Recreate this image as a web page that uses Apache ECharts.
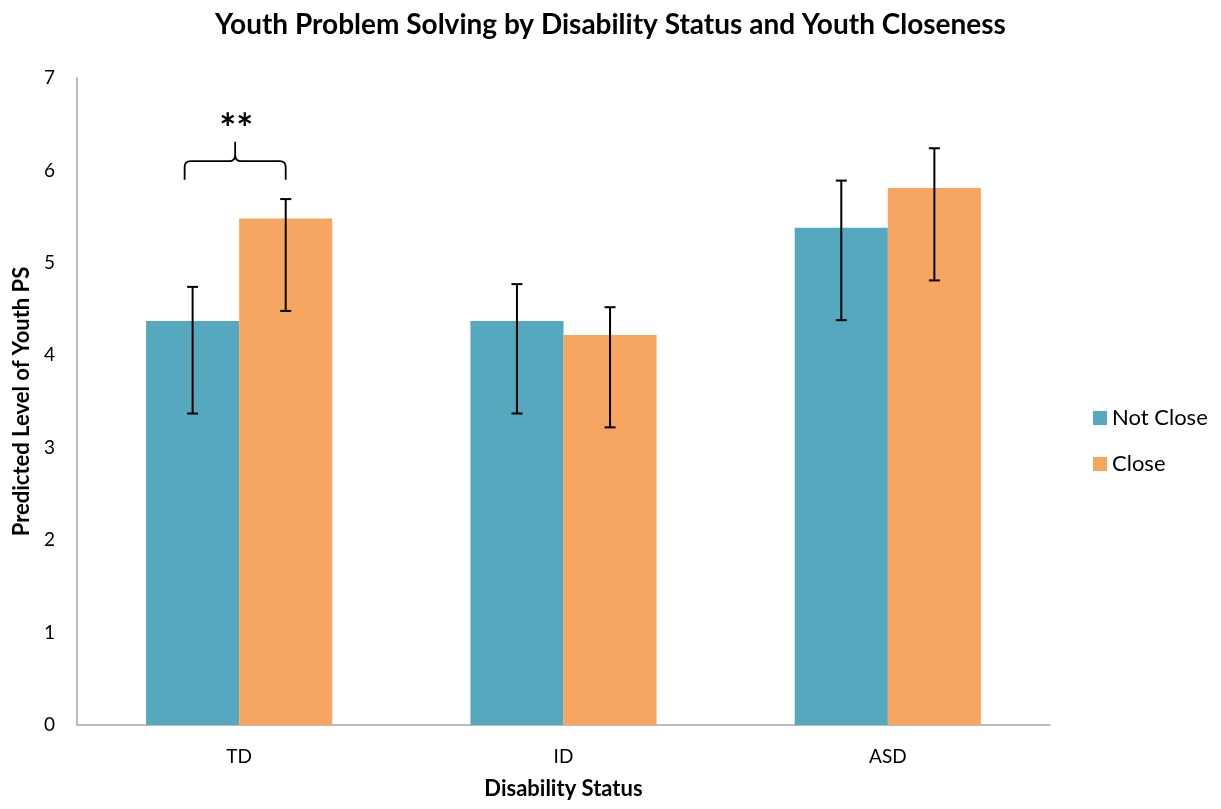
<!DOCTYPE html>
<html>
<head>
<meta charset="utf-8">
<script src="https://cdn.jsdelivr.net/npm/echarts@6/dist/echarts.min.js"></script>
<style>
  html, body { margin: 0; padding: 0; background: #fff; }
  #chart { width: 1221px; height: 809px; }
</style>
</head>
<body>
<div id="chart"></div>
<script>
// Disability status groups on the x axis
const categories = ['TD', 'ID', 'ASD'];
const seriesNames = ['Not Close', 'Close'];

// Predicted level of youth problem solving (bar heights)
const notCloseValues = [4.37, 4.37, 5.38];
const closeValues = [5.48, 4.22, 5.81];

// Error bar extents [low, high]
const notCloseErrors = [[3.37, 4.74], [3.37, 4.77], [4.38, 5.89]];
const closeErrors = [[4.48, 5.69], [3.22, 4.52], [4.81, 6.24]];

// Significance bracket over the TD pair: [category index, line level, end level, tip level, star level, marker]
const significance = [[0, 6.10, 5.90, 6.31, 6.44, '**']];

const yTicks = { min: 0, max: 7, interval: 1 };

const BAR_FRACTION = 0.287;
const TEAL = '#55A8BD';
const ORANGE = '#F6A660';
const FONT = 'Lato, "Open Sans", sans-serif';

function errorBarSeries(name, errors, side) {
  return {
    type: 'custom',
    name: name + ' error',
    silent: true,
    z: 5,
    data: errors.map((e, i) => [i, e[0], e[1]]),
    encode: { x: 0, y: [1, 2] },
    renderItem: function (params, api) {
      const band = api.size([1, 0])[0];
      const bw = band * BAR_FRACTION;
      const lo = api.coord([api.value(0), api.value(1)]);
      const hi = api.coord([api.value(0), api.value(2)]);
      const x = lo[0] + side * bw / 2;
      const cap = 5.5;
      const style = { stroke: '#000', lineWidth: 2 };
      return {
        type: 'group',
        children: [
          { type: 'line', shape: { x1: x, y1: hi[1], x2: x, y2: lo[1] }, style: style },
          { type: 'line', shape: { x1: x - cap, y1: hi[1], x2: x + cap, y2: hi[1] }, style: style },
          { type: 'line', shape: { x1: x - cap, y1: lo[1], x2: x + cap, y2: lo[1] }, style: style }
        ]
      };
    }
  };
}

const chart = echarts.init(document.getElementById('chart'), null, { renderer: 'canvas' });

chart.setOption({
  backgroundColor: '#ffffff',
  animation: false,
  title: {
    text: 'Youth Problem Solving by Disability Status and Youth Closeness',
    left: 'center',
    top: 6,
    textStyle: { fontFamily: FONT, fontSize: 28, fontWeight: 'bold', color: '#000' }
  },
  legend: {
    orient: 'vertical',
    left: 1093,
    top: 407,
    padding: 0,
    itemWidth: 14,
    itemHeight: 14,
    itemGap: 24,
    icon: 'rect',
    data: seriesNames,
    textStyle: { fontFamily: FONT, fontSize: 22, color: '#000' }
  },
  grid: { left: 77, right: 171, top: 78, bottom: 84, containLabel: false },
  xAxis: {
    type: 'category',
    data: categories,
    name: 'Disability Status',
    nameLocation: 'middle',
    nameGap: 53,
    nameTextStyle: { fontFamily: FONT, fontSize: 22, fontWeight: 'bold', color: '#000' },
    axisLine: { lineStyle: { color: '#A6A6A6', width: 1.5 } },
    axisTick: { show: false },
    axisLabel: { fontFamily: FONT, fontSize: 19, color: '#000', margin: 22 }
  },
  yAxis: {
    type: 'value',
    min: yTicks.min,
    max: yTicks.max,
    interval: yTicks.interval,
    name: 'Predicted Level of Youth PS',
    nameLocation: 'middle',
    nameGap: 44,
    nameTextStyle: { fontFamily: FONT, fontSize: 22, fontWeight: 'bold', color: '#000' },
    axisLine: { show: true, lineStyle: { color: '#A6A6A6', width: 1.5 } },
    axisTick: { show: false },
    splitLine: { show: false },
    axisLabel: { fontFamily: FONT, fontSize: 19, color: '#000', margin: 22 }
  },
  series: [
    {
      type: 'bar',
      name: seriesNames[0],
      data: notCloseValues,
      barWidth: (BAR_FRACTION * 100) + '%',
      barGap: '0%',
      itemStyle: { color: TEAL }
    },
    {
      type: 'bar',
      name: seriesNames[1],
      data: closeValues,
      barWidth: (BAR_FRACTION * 100) + '%',
      barGap: '0%',
      itemStyle: { color: ORANGE }
    },
    errorBarSeries(seriesNames[0], notCloseErrors, -1),
    errorBarSeries(seriesNames[1], closeErrors, 1),
    {
      type: 'custom',
      name: 'significance',
      silent: true,
      z: 6,
      data: significance,
      encode: { x: 0, y: [1, 2, 3, 4] },
      renderItem: function (params, api) {
        const band = api.size([1, 0])[0];
        const bw = band * BAR_FRACTION;
        const mid = api.coord([api.value(0), api.value(1)]);
        const yLine = mid[1];
        const yEnd = api.coord([api.value(0), api.value(2)])[1];
        const yTip = api.coord([api.value(0), api.value(3)])[1];
        const yStar = api.coord([api.value(0), api.value(4)])[1];
        const cx = mid[0];
        const xl = cx - bw / 2 - 8;
        const xr = cx + bw / 2;
        const xm = (xl + xr) / 2;
        const r = 6;
        const path =
          'M' + xl + ',' + yEnd +
          ' L' + xl + ',' + (yLine + r) +
          ' Q' + xl + ',' + yLine + ' ' + (xl + r) + ',' + yLine +
          ' L' + (xm - r) + ',' + yLine +
          ' Q' + xm + ',' + yLine + ' ' + xm + ',' + (yLine - r) +
          ' L' + xm + ',' + yTip +
          ' M' + xm + ',' + (yLine - r) +
          ' Q' + xm + ',' + yLine + ' ' + (xm + r) + ',' + yLine +
          ' L' + (xr - r) + ',' + yLine +
          ' Q' + xr + ',' + yLine + ' ' + xr + ',' + (yLine + r) +
          ' L' + xr + ',' + yEnd;
        return {
          type: 'group',
          children: [
            { type: 'path', shape: { pathData: path }, style: { stroke: '#000', lineWidth: 1.8, fill: null } },
            {
              type: 'text',
              style: {
                x: xm + 1, y: yStar,
                text: api.value(5),
                align: 'center', verticalAlign: 'middle',
                font: 'bold 40px ' + FONT,
                fill: '#000'
              }
            }
          ]
        };
      }
    }
  ]
});
</script>
</body>
</html>
